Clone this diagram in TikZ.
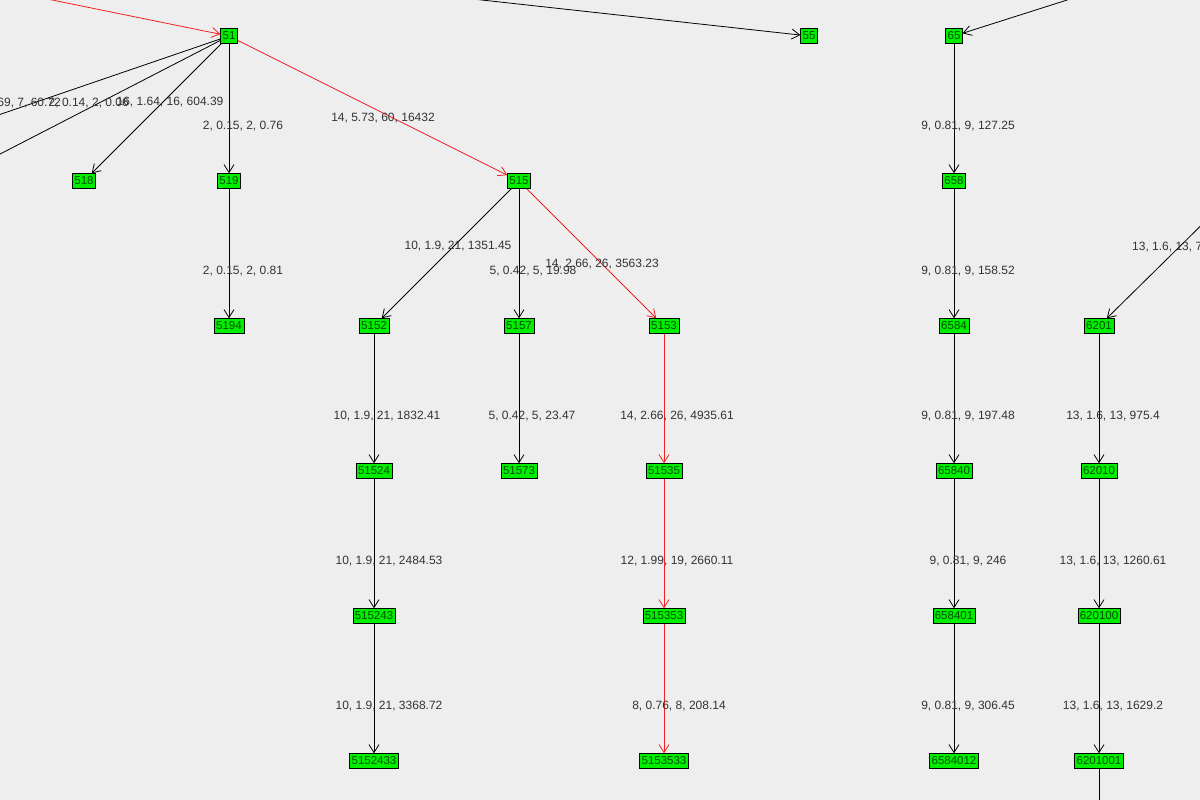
\documentclass[tikz,border=0pt]{standalone}
\usepackage{fontspec}
\setmainfont{Liberation Sans}
\usetikzlibrary{arrows.meta}
\definecolor{bg}{HTML}{EEEEEE}
\definecolor{ng}{HTML}{00EE00}
\definecolor{lt}{HTML}{333333}
\definecolor{rd}{HTML}{EE2222}
\begin{document}
\begin{tikzpicture}[x=1pt,y=-1pt,
  nd/.style={draw=black,fill=ng,inner xsep=2pt,inner ysep=1.2pt,minimum height=15pt,font=\fontsize{11.5}{12}\selectfont,text=black!70!green},
  ed/.style={-{Straight Barb[length=8pt,width=10pt]},black,line width=0.8pt},
  red/.style={-{Straight Barb[length=8pt,width=10pt]},rd,line width=0.8pt},
  lb/.style={font=\fontsize{12}{13}\selectfont,text=lt,inner sep=0pt}]
\fill[bg] (0,0) rectangle (1200,800);
\useasboundingbox (0,0) rectangle (1200,800);
\clip (0,0) rectangle (1200,800);
\foreach \n/\x/\y in {51/229/36,55/809/36,65/954/36,518/84/181,519/229/181,515/519/181,658/954/181,
 5194/229/326,5152/374/326,5157/519/326,5153/664/326,6584/954/326,6201/1099/326,
 51524/374/471,51573/519/471,51535/664/471,65840/954/471,62010/1099/471,
 515243/374/616,515353/664/616,658401/954/616,620100/1099/616,
 5152433/374/761,5153533/664/761,6584012/954/761,6201001/1099/761}
  \node[nd] (n\n) at (\x,\y) {\n};
\coordinate (a) at (-110,-33);
\coordinate (b) at (300,-20);
\coordinate (c) at (1130,-20);
\coordinate (d) at (1230,197);
\coordinate (e) at (-60,135);
\coordinate (f) at (-60,185);
\coordinate (g) at (1099,830);
\draw[red] (a) -- (n51);
\draw[ed] (b) -- (n55);
\draw[ed] (c) -- (n65);
\draw[ed] (d) -- (n6201);
\draw[ed,-] (n51) -- (e);
\draw[ed,-] (n51) -- (f);
\draw[ed,-] (n6201001) -- (g);
\draw[ed] (n51) -- (n518);
\draw[ed] (n51) -- (n519);
\draw[red] (n51) -- (n515);
\draw[ed] (n519) -- (n5194);
\draw[ed] (n515) -- (n5152);
\draw[ed] (n515) -- (n5157);
\draw[red] (n515) -- (n5153);
\draw[ed] (n5152) -- (n51524);
\draw[ed] (n5157) -- (n51573);
\draw[red] (n5153) -- (n51535);
\draw[ed] (n51524) -- (n515243);
\draw[red] (n51535) -- (n515353);
\draw[ed] (n515243) -- (n5152433);
\draw[red] (n515353) -- (n5153533);
\draw[ed] (n65) -- (n658);
\draw[ed] (n658) -- (n6584);
\draw[ed] (n6584) -- (n65840);
\draw[ed] (n65840) -- (n658401);
\draw[ed] (n658401) -- (n6584012);
\draw[ed] (n6201) -- (n62010);
\draw[ed] (n62010) -- (n620100);
\draw[ed] (n620100) -- (n6201001);
\node[lb,anchor=east] (l1) at (61,103) {1.69, 7, 60.72};
\node[lb,anchor=east] (l2) at (129,103) {2, 0.14, 2, 0.06};
\node[lb] (l3) at (170,102) {16, 1.64, 16, 604.39};
\node[lb] (l4) at (243,126) {2, 0.15, 2, 0.76};
\node[lb] (l5) at (383,118) {14, 5.73, 60, 16432};
\node[lb] (l6) at (243,271) {2, 0.15, 2, 0.81};
\node[lb] (l7) at (458,246) {10, 1.9, 21, 1351.45};
\node[lb] (l8) at (533,271) {5, 0.42, 5, 19.98};
\node[lb] (l9) at (602,264) {14, 2.66, 26, 3563.23};
\node[lb] (l10) at (387,416) {10, 1.9, 21, 1832.41};
\node[lb] (l11) at (532,416) {5, 0.42, 5, 23.47};
\node[lb] (l12) at (677,416) {14, 2.66, 26, 4935.61};
\node[lb] (l13) at (389,561) {10, 1.9, 21, 2484.53};
\node[lb] (l14) at (677,561) {12, 1.99, 19, 2660.11};
\node[lb] (l15) at (389,706) {10, 1.9, 21, 3368.72};
\node[lb] (l16) at (679,706) {8, 0.76, 8, 208.14};
\node[lb] (l17) at (968,126) {9, 0.81, 9, 127.25};
\node[lb] (l18) at (968,271) {9, 0.81, 9, 158.52};
\node[lb] (l19) at (968,416) {9, 0.81, 9, 197.48};
\node[lb] (l20) at (968,561) {9, 0.81, 9, 246};
\node[lb] (l21) at (968,706) {9, 0.81, 9, 306.45};
\node[lb,anchor=west] (l22) at (1132,247) {13, 1.6, 13, 735.2};
\node[lb] (l23) at (1113,416) {13, 1.6, 13, 975.4};
\node[lb] (l24) at (1113,561) {13, 1.6, 13, 1260.61};
\node[lb] (l25) at (1113,706) {13, 1.6, 13, 1629.2};
\end{tikzpicture}
\end{document}
